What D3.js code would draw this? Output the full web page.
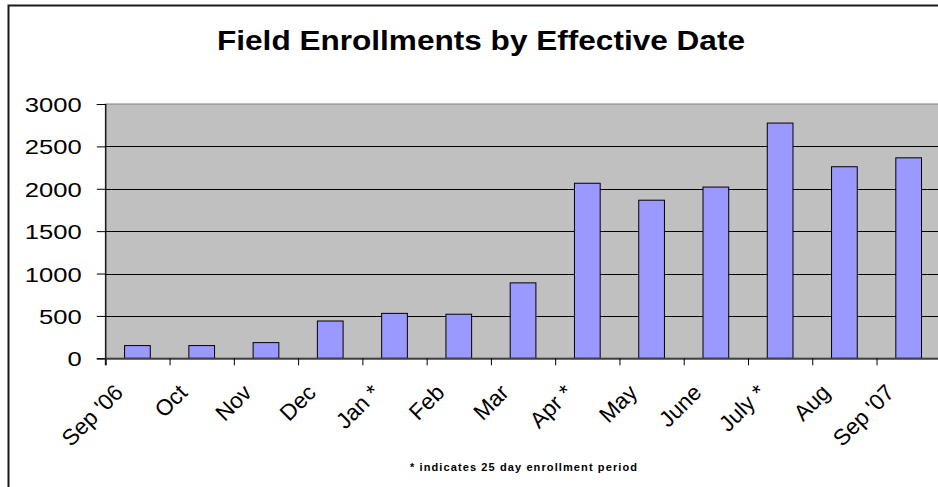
<!DOCTYPE html>
<html>
<head>
<meta charset="utf-8">
<script src="https://cdn.jsdelivr.net/npm/d3@7"></script>
<style>
  html, body { margin: 0; padding: 0; background: #fff; overflow: hidden; }
  svg { display: block; }
  text { font-family: "Liberation Sans", Arial, sans-serif; fill: #000; }
</style>
</head>
<body>
<svg id="chart" width="938" height="487"></svg>
<script>
const categories = ["Sep '06", "Oct", "Nov", "Dec", "Jan *", "Feb", "Mar", "Apr *", "May", "June", "July *", "Aug", "Sep '07"];
const enrollments = [150, 150, 185, 440, 530, 520, 890, 2065, 1865, 2020, 2775, 2260, 2365];
const yTicks = [0, 500, 1000, 1500, 2000, 2500, 3000];
const titleText = "Field Enrollments by Effective Date";
const footnoteText = "* indicates 25 day enrollment period";

const svg = d3.select("#chart");
const plot = { left: 105.3, right: 940.8, top: 104, bottom: 358.3 };
const stretch = 1.22;

// outer chart border
svg.append("rect")
  .attr("x", 8.5).attr("y", 5.5).attr("width", 1000).attr("height", 600)
  .attr("fill", "#fff").attr("stroke", "#1a1a1a").attr("stroke-width", 2);

const x = d3.scaleBand().domain(categories).range([plot.left, plot.right])
  .paddingInner(0.6).paddingOuter(0.3);
const xEdge = d3.scaleLinear().domain([0, categories.length]).range([plot.left, plot.right]);
const y = d3.scaleLinear().domain([0, 3000]).range([plot.bottom, plot.top]);

// plot area
svg.append("rect")
  .attr("x", plot.left).attr("y", plot.top)
  .attr("width", plot.right - plot.left).attr("height", plot.bottom - plot.top)
  .attr("fill", "#c0c0c0").attr("stroke", "#808080").attr("stroke-width", 1);

// gridlines
svg.append("g").selectAll("line").data(yTicks.filter(d => d > 0 && d < 3000)).join("line")
  .attr("x1", plot.left).attr("x2", plot.right)
  .attr("y1", d => Math.round(y(d)) + 0.5).attr("y2", d => Math.round(y(d)) + 0.5)
  .attr("stroke", "#000").attr("stroke-width", 1);

// bars
svg.append("g").selectAll("rect").data(enrollments).join("rect")
  .attr("x", (d, i) => x(categories[i]))
  .attr("y", d => y(d))
  .attr("width", x.bandwidth())
  .attr("height", d => y(0) - y(d))
  .attr("fill", "#9999ff").attr("stroke", "#000").attr("stroke-width", 1);

// y axis
const yAxis = svg.append("g").attr("transform", `translate(${plot.left},0)`)
  .call(d3.axisLeft(y).tickValues(yTicks).tickSize(8.5).tickPadding(0).tickFormat(d3.format("d")));
yAxis.select(".domain").attr("stroke", "#000").attr("stroke-width", 1.2);
yAxis.selectAll(".tick line").attr("stroke", "#000");
yAxis.selectAll(".tick text")
  .attr("x", 0).attr("dy", "0.36em")
  .attr("transform", `translate(-23.5,0) scale(${stretch},1)`)
  .style("font-size", "21px").style("font-family", "'Liberation Sans', Arial, sans-serif")
  .attr("fill", "#000");

// x axis (ticks at category boundaries)
const xAxis = svg.append("g").attr("transform", `translate(0,${plot.bottom})`)
  .call(d3.axisBottom(xEdge).tickValues(d3.range(0, categories.length)).tickSize(7).tickFormat(""));
xAxis.select(".domain").attr("stroke", "#404040").attr("stroke-width", 2);
xAxis.selectAll(".tick line").attr("stroke", "#000");

// x labels
svg.append("g").selectAll("text").data(categories).join("text")
  .attr("transform", d => `translate(${x(d) + x.bandwidth() / 2 - 13},394) rotate(-45)`)
  .attr("text-anchor", "end")
  .style("font-size", "22.5px")
  .text(d => d);

// title
svg.append("text")
  .attr("x", 481).attr("y", 50)
  .attr("text-anchor", "middle")
  .attr("textLength", 528).attr("lengthAdjust", "spacingAndGlyphs")
  .style("font-size", "27px").style("font-weight", "bold")
  .text(titleText);

// footnote
svg.append("text")
  .attr("x", 410).attr("y", 471)
  .attr("textLength", 227).attr("lengthAdjust", "spacing")
  .style("font-size", "11px").style("font-weight", "bold")
  .text(footnoteText);
</script>
</body>
</html>
